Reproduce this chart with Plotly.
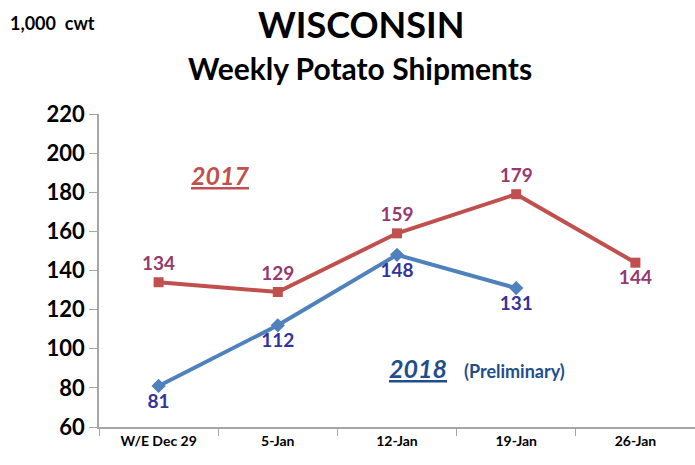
import plotly.graph_objects as go

categories = ["W/E Dec 29", "5-Jan", "12-Jan", "19-Jan", "26-Jan"]
ship_2017 = [134, 129, 159, 179, 144]
ship_2018 = [81, 112, 148, 131]
pos_2017 = ["top center", "top center", "top center", "top center", "bottom center"]
pos_2018 = ["bottom center", "bottom center", "bottom center", "bottom center"]
y_ticks = [60, 80, 100, 120, 140, 160, 180, 200, 220]

FONT = "Lato"
W, H = 695, 465
l, r, t, b = 99, 0, 114, 38

fig = go.Figure()
fig.add_trace(go.Scatter(
    x=categories, y=ship_2017, mode="lines+markers+text",
    line=dict(color="#C0504D", width=4),
    marker=dict(symbol="square", size=10, color="#C0504D"),
    text=[str(v) for v in ship_2017], textposition=pos_2017,
    textfont=dict(family=FONT, size=19, color="#953A6E", weight="bold"),
    cliponaxis=False, showlegend=False))
fig.add_trace(go.Scatter(
    x=categories[:len(ship_2018)], y=ship_2018, mode="lines+markers+text",
    line=dict(color="#4F81BD", width=4),
    marker=dict(symbol="diamond", size=11, color="#4F81BD"),
    text=[str(v) for v in ship_2018], textposition=pos_2018,
    textfont=dict(family=FONT, size=19, color="#3333A0", weight="bold"),
    cliponaxis=False, showlegend=False))

# (text, screen x, screen y, size, color, xanchor)
notes = [
    ("<b>WISCONSIN</b>", 361, 24, 36, "black", "center"),
    ("<b>1,000&nbsp;&nbsp;cwt</b>", 9, 23, 18, "black", "left"),
    ("<b>Weekly Potato Shipments</b>", 360, 68, 30, "black", "center"),
    ("<b><i><u>2017</u></i></b>", 220, 175, 25, "#C0504D", "center"),
    ("<b><i><u>2018</u></i></b>", 418, 368, 25, "#1F4E8C", "center"),
    ("<b>(Preliminary)</b>", 514, 371, 18, "#1F4E8C", "center"),
]
pw, ph = W - l - r, H - t - b
annotations = []
for txt, sx, sy, size, color, xa in notes:
    annotations.append(dict(
        text=txt, x=(sx - l) / pw, y=(H - b - sy) / ph, xref="paper", yref="paper",
        xanchor=xa, yanchor="middle", showarrow=False, borderpad=0,
        font=dict(size=size, family=FONT, color=color)))

fig.update_layout(
    width=W, height=H,
    margin=dict(l=l, r=r, t=t, b=b),
    paper_bgcolor="white", plot_bgcolor="white",
    font=dict(family=FONT, color="black"),
    xaxis=dict(type="category", range=[-0.5, 4.5], showgrid=False,
               showline=True, linecolor="#A6A6A6", linewidth=1.5,
               ticks="outside", tickson="boundaries", ticklen=7, tickcolor="#A6A6A6",
               tickfont=dict(family=FONT, size=14, color="black", weight="bold")),
    yaxis=dict(range=[60, 220], tickvals=y_ticks, showgrid=False, zeroline=False,
               showline=True, linecolor="#A6A6A6", linewidth=1.5,
               ticks="outside", ticklen=8, tickcolor="#A6A6A6",
               tickfont=dict(family=FONT, size=22, color="black", weight="bold")),
    annotations=annotations,
)

fig.write_html("out.html", config={"displayModeBar": False},
               post_script="document.body.style.margin='0';")
